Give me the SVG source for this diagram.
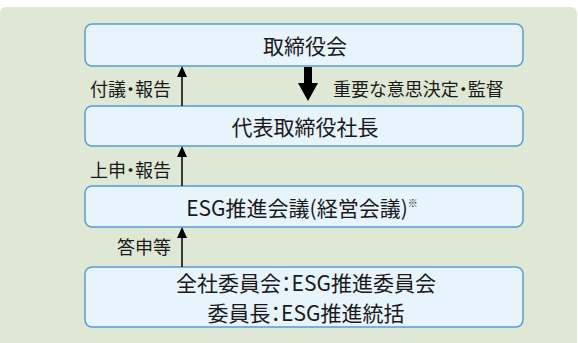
<svg xmlns="http://www.w3.org/2000/svg" width="578" height="343" viewBox="0 0 578 343">
<defs>
<style>
.box{fill:#e8f4fc;stroke:#5b9bd5;stroke-width:1.5}
.t{font-family:"Noto Sans CJK JP","Noto Sans",sans-serif;font-size:21px;fill:#1a1a1a;text-anchor:middle;dominant-baseline:central;font-feature-settings:"palt"}
.l{font-family:"Noto Sans CJK JP","Noto Sans",sans-serif;font-size:18px;fill:#1a1a1a;dominant-baseline:central;font-feature-settings:"palt"}
.c{stroke:#000;stroke-width:1.5;fill:none}
</style>
</defs>
<rect x="0" y="7" width="577" height="340" rx="6" fill="#dfe8d5"/>
<g id="n1"><rect class="box" x="85" y="24" width="438" height="42" rx="7"/><text class="t" x="305" y="45">取締役会</text></g>
<g id="n2"><rect class="box" x="85" y="106" width="438" height="40" rx="7"/><text class="t" x="305" y="126">代表取締役社長</text></g>
<g id="n3"><rect class="box" x="85" y="186" width="438" height="41" rx="7"/><text class="t" x="302" y="207">ESG推進会議(経営会議)<tspan font-size="10" dy="-5">※</tspan></text></g>
<g id="n4"><rect class="box" x="85" y="267" width="438" height="60" rx="7"/><text class="t" x="306" y="282">全社委員会：ESG推進委員会</text><text class="t" x="306" y="312">委員長：ESG推進統括</text></g>
<g id="connectors">
<line class="c" x1="182" y1="106" x2="182" y2="70"/>
<path d="M177,77 L182,66 L187,77 Z" fill="#000"/>
<line class="c" x1="182" y1="186" x2="182" y2="150"/>
<path d="M177,157 L182,146 L187,157 Z" fill="#000"/>
<line class="c" x1="182" y1="267" x2="182" y2="231"/>
<path d="M177,238 L182,227 L187,238 Z" fill="#000"/>
<path d="M304,67 L312,67 L312,83 L318,83 L308,101 L298,83 L304,83 Z" fill="#000"/>
<text class="l" x="171" y="88" text-anchor="end">付議・報告</text>
<text class="l" x="333" y="88">重要な意思決定・監督</text>
<text class="l" x="171" y="169" text-anchor="end">上申・報告</text>
<text class="l" x="171" y="246" text-anchor="end">答申等</text>
</g>
</svg>
